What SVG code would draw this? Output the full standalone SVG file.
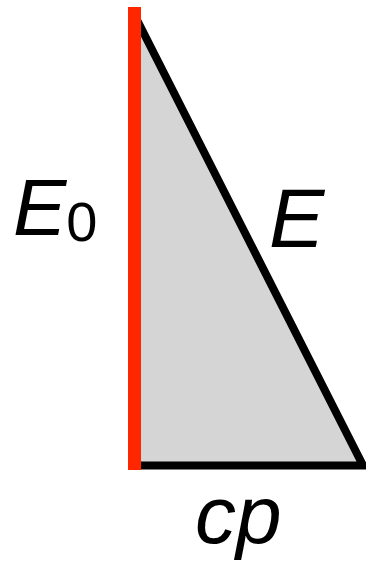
<svg xmlns="http://www.w3.org/2000/svg" width="366" height="562" viewBox="0 0 366 562">
<style>
.lbl{font-family:"Liberation Sans",Arial,Helvetica,sans-serif;fill:#000}
.it{font-style:italic}
</style>
<rect width="366" height="562" fill="#fff"/>
<g id="triangle">
<polygon points="134.5,15 134.5,465.5 363,465.5" fill="#d5d5d5"/>
<path d="M134.5,15 L363,465.5 L134.5,465.5" fill="none" stroke="#000" stroke-width="8" stroke-linejoin="miter" stroke-miterlimit="10"/>
</g>
<g id="e0-side">
<line x1="134.5" y1="7" x2="134.5" y2="470" stroke="#ff2600" stroke-width="13"/>
</g>
<g id="labels">
<text class="lbl" x="13" y="235"><tspan class="it" font-size="80">E</tspan><tspan font-size="56" dy="6">0</tspan></text>
<text class="lbl it" x="269" y="247" font-size="83">E</text>
<text class="lbl it" x="195" y="543" font-size="82">cp</text>
</g>
</svg>
